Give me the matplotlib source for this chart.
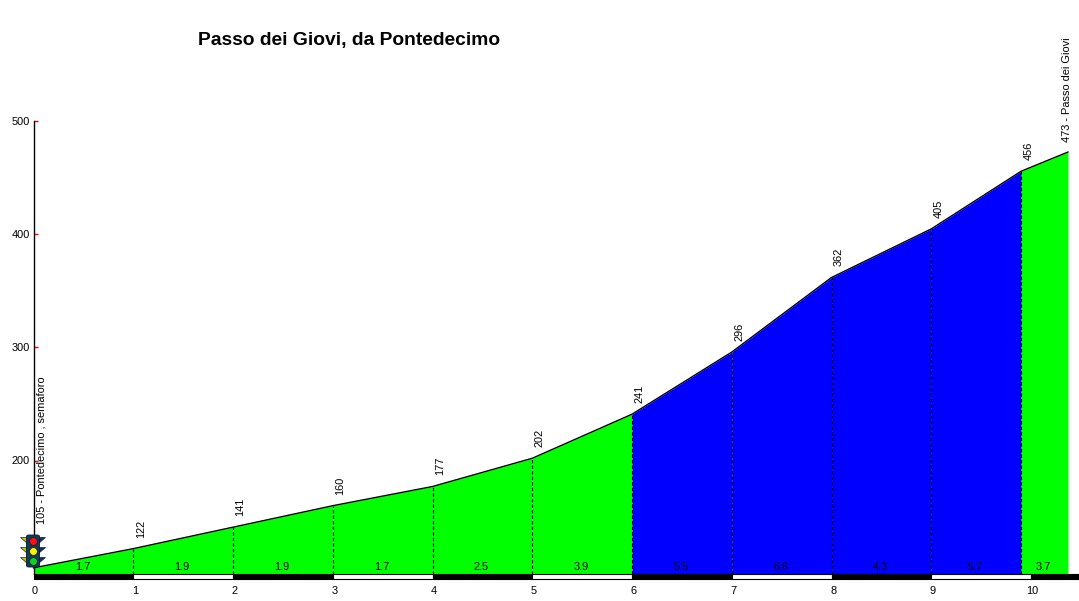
import numpy as np
import matplotlib
matplotlib.use("Agg")
import matplotlib.pyplot as plt
from matplotlib.patches import Polygon

plt.rcParams["font.family"] = ["Liberation Sans", "DejaVu Sans"]

# profile of the climb
km = [0, 1, 2, 3, 4, 5, 6, 7, 8, 9, 9.9, 10.37]
quota = [105, 122, 141, 160, 177, 202, 241, 296, 362, 405, 456, 473]
point_labels = ["105 - Pontedecimo , semaforo", "122", "141", "160", "177", "202",
                "241", "296", "362", "405", "456", "473 - Passo dei Giovi"]
slopes = [1.7, 1.9, 1.9, 1.7, 2.5, 3.9, 5.5, 6.6, 4.3, 5.7, 3.7]
seg_colors = ["#00ff00"] * 6 + ["#0000ff"] * 4 + ["#00ff00"]
x_ticks = [0, 1, 2, 3, 4, 5, 6, 7, 8, 9, 10]
y_ticks = [200, 300, 400, 500]

W, H = 1079, 601
X_MAX = 10.48

fig = plt.figure(figsize=(W / 100, H / 100), dpi=100)
# axes placed so that 0 km / 100 m and 500 m fall on the same pixels as the original
ax = fig.add_axes([33.5 / W, (H - 573.5) / H, (W - 33.5) / W, 452 / H])
ax.set_xlim(0, X_MAX)
ax.set_ylim(100, 500)

for i in range(len(slopes)):
    ax.fill_between(km[i:i + 2], quota[i:i + 2], 100, color=seg_colors[i], lw=0, zorder=1)
    ax.annotate(str(slopes[i]), ((km[i] + km[i + 1]) / 2, 106), xytext=(-1, 0), textcoords="offset pixels",
                ha="center", va="center", fontsize=7.9, color="black", zorder=4)

ax.plot(km, quota, color="black", lw=1.0, zorder=3, clip_on=False)
ax.vlines(km[1:-1], 100, quota[1:-1], color="black", lw=0.8, linestyles=(0, (3, 2)), zorder=2)

# km scale under the profile
edges = x_ticks + [X_MAX]
for i in range(len(edges) - 1):
    ax.bar(edges[i], -4.6, width=edges[i + 1] - edges[i], bottom=100, align="edge",
           color="black" if i % 2 == 0 else "white", edgecolor="black", lw=0.8,
           clip_on=False, zorder=3)

for i in range(len(km)):
    if i == 0:
        off = (8, 44)
    elif i == len(km) - 1:
        off = (-1.5, 10)
    else:
        off = (7.5, 11)
    ax.annotate(point_labels[i], (km[i], quota[i]), xytext=off, textcoords="offset pixels",
                rotation=90, ha="center", va="bottom", fontsize=7.9, annotation_clip=False)

for s in ["top", "right", "bottom"]:
    ax.spines[s].set_visible(False)
ax.spines["left"].set_linewidth(1.0)
ax.patch.set_alpha(0)

ax.set_xticks(x_ticks)
ax.set_xticklabels([])
ax.tick_params(axis="x", length=0)
for t in x_ticks:
    ax.annotate(str(t), (t, 100), xytext=(1.5, -17), textcoords="offset pixels",
                ha="center", va="center", fontsize=7.9, annotation_clip=False)
ax.set_yticks(y_ticks)
ax.tick_params(axis="y", direction="in", length=3, width=1.0, color="#ff0000",
               labelsize=7.9, pad=2.5)

fig.text(349.5 / W, (H - 40) / H, "Passo dei Giovi, da Pontedecimo", ha="center", va="center",
         fontsize=13.9, fontweight="bold")


# traffic light icon, in figure pixels
def px(x, y):
    return (x / W, (H - y) / H)


icon = dict(transform=fig.transFigure, zorder=6, clip_on=False)
lamps = [(541, "#ff1010"), (551, "#ffee00"), (561, "#10d020")]
for y, col in lamps:
    fig.add_artist(Polygon([px(20, y - 4), px(27, y - 4), px(27, y + 2)], fc="#c8c800", ec="#102040", lw=0.5, **icon))
    fig.add_artist(Polygon([px(45, y - 4), px(38, y - 4), px(38, y + 2)], fc="#103060", ec="#102040", lw=0.5, **icon))
fig.add_artist(Polygon([px(26.5, 536), px(28, 535), px(38, 535), px(39.5, 536),
                        px(39.5, 566), px(38, 567), px(28, 567), px(26.5, 566)],
                       fc="#123a55", ec="#0a1a30", lw=0.6, **icon))
for y, col in lamps:
    fig.add_artist(plt.Line2D([32.5 / W], [(H - y) / H], marker="o", ms=5.6, mfc=col, mec="#0a1a30",
                              mew=0.5, transform=fig.transFigure, zorder=7))

fig.savefig("out.png", dpi=100, facecolor="white")
